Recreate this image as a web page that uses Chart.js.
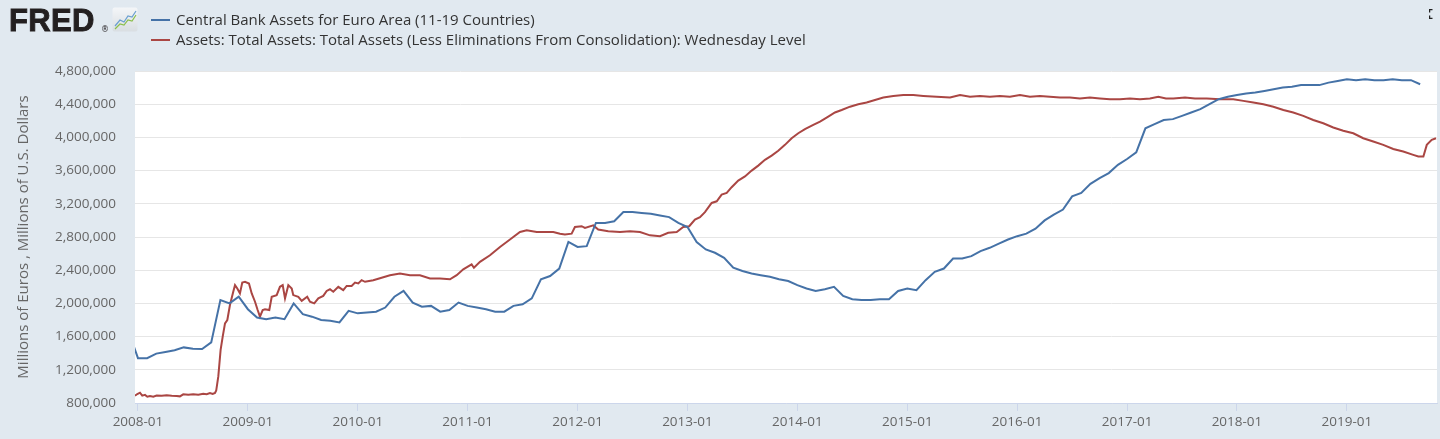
<!DOCTYPE html>
<html>
<head>
<meta charset="utf-8">
<title>Central Bank Assets</title>
<script src="https://cdn.jsdelivr.net/npm/chart.js@4.4.1/dist/chart.umd.min.js"></script>
<style>
  html, body { margin: 0; padding: 0; background: #e1e9f0; }
  #wrap { position: relative; width: 1440px; height: 439px; overflow: hidden; font-family: "Open Sans", sans-serif; }
  #chart { position: absolute; left: 0; top: 0; }
  .logo { position: absolute; left: 9px; top: 2px; font-family: "Liberation Sans", Arial, sans-serif; font-weight: bold;
          font-size: 31px; letter-spacing: 0.3px; color: #231f20; line-height: 38px; -webkit-text-stroke: 0.9px #231f20; }
  .reg { position: absolute; left: 101px; top: 25px; font-family: "DejaVu Sans", sans-serif; font-size: 8px; color: #231f20; }
  .logo-icon { position: absolute; left: 112px; top: 7px; }
  .legend { position: absolute; left: 151px; top: 9px; font-size: 15px; color: #333333; }
  .legend div { height: 20px; line-height: 20px; white-space: nowrap; }
  .legend span.swatch { display: inline-block; width: 19px; height: 2px; vertical-align: middle; margin-right: 6px; position: relative; top: -1px; }
  .full { position: absolute; left: 1429px; top: 9px; }
</style>
</head>
<body>
<div id="wrap">
  <canvas id="chart" width="1440" height="439"></canvas>
  <div class="logo">FRED</div>
  <div class="reg">®</div>
  <svg class="logo-icon" width="26" height="25" viewBox="0 0 26 25">
    <defs>
      <linearGradient id="g" x1="0" y1="0" x2="0" y2="1">
        <stop offset="0" stop-color="#f4f6f8"/>
        <stop offset="1" stop-color="#d9dee2"/>
      </linearGradient>
    </defs>
    <rect x="0.5" y="0.5" width="25" height="24" rx="2" fill="url(#g)"/>
    <polyline points="3,19 8,13 12,15 16,9 20,10 24,4" fill="none" stroke="#6a9fd0" stroke-width="1.2"/>
    <polyline points="3,22 8,17 12,18 16,13 20,14 24,8" fill="none" stroke="#8bbf4c" stroke-width="1.2"/>
  </svg>
  <div class="legend">
    <div><span class="swatch" style="background:#4572a7"></span>Central Bank Assets for Euro Area (11-19 Countries)</div>
    <div><span class="swatch" style="background:#aa4643"></span>Assets: Total Assets: Total Assets (Less Eliminations From Consolidation): Wednesday Level</div>
  </div>
  <svg class="full" width="8" height="10" viewBox="0 0 8 10">
    <path d="M0.5 3.5 V0.5 H3.5 M0.5 6.5 V9.5 H3.5" fill="none" stroke="#222" stroke-width="1.5"/>
  </svg>
</div>
<script>
// Central Bank Assets for Euro Area, monthly (millions of euros)
var blueMonths = [
  "2007-12", "2008-01", "2008-02", "2008-03", "2008-04", "2008-05", "2008-06", "2008-07", "2008-08", "2008-09", "2008-10", "2008-11", "2008-12",
  "2009-01", "2009-02", "2009-03", "2009-04", "2009-05", "2009-06", "2009-07", "2009-08", "2009-09", "2009-10", "2009-11", "2009-12",
  "2010-01", "2010-02", "2010-03", "2010-04", "2010-05", "2010-06", "2010-07", "2010-08", "2010-09", "2010-10", "2010-11", "2010-12",
  "2011-01", "2011-02", "2011-03", "2011-04", "2011-05", "2011-06", "2011-07", "2011-08", "2011-09", "2011-10", "2011-11", "2011-12",
  "2012-01", "2012-02", "2012-03", "2012-04", "2012-05", "2012-06", "2012-07", "2012-08", "2012-09", "2012-10", "2012-11", "2012-12",
  "2013-01", "2013-02", "2013-03", "2013-04", "2013-05", "2013-06", "2013-07", "2013-08", "2013-09", "2013-10", "2013-11", "2013-12",
  "2014-01", "2014-02", "2014-03", "2014-04", "2014-05", "2014-06", "2014-07", "2014-08", "2014-09", "2014-10", "2014-11", "2014-12",
  "2015-01", "2015-02", "2015-03", "2015-04", "2015-05", "2015-06", "2015-07", "2015-08", "2015-09", "2015-10", "2015-11", "2015-12",
  "2016-01", "2016-02", "2016-03", "2016-04", "2016-05", "2016-06", "2016-07", "2016-08", "2016-09", "2016-10", "2016-11", "2016-12",
  "2017-01", "2017-02", "2017-03", "2017-04", "2017-05", "2017-06", "2017-07", "2017-08", "2017-09", "2017-10", "2017-11", "2017-12",
  "2018-01", "2018-02", "2018-03", "2018-04", "2018-05", "2018-06", "2018-07", "2018-08", "2018-09", "2018-10", "2018-11", "2018-12",
  "2019-01", "2019-02", "2019-03", "2019-04", "2019-05", "2019-06", "2019-07", "2019-08", "2019-09"
];
var blueValues = [
  1650000, 1340000, 1340000, 1395000, 1415000, 1435000, 1470000, 1455000, 1450000, 1530000, 2040000, 2000000, 2080000,
  1930000, 1830000, 1810000, 1830000, 1810000, 2000000, 1870000, 1840000, 1800000, 1790000, 1770000, 1910000,
  1880000, 1890000, 1900000, 1950000, 2080000, 2150000, 2010000, 1960000, 1970000, 1900000, 1920000, 2010000,
  1970000, 1950000, 1930000, 1900000, 1900000, 1970000, 1990000, 2060000, 2290000, 2330000, 2420000, 2740000,
  2680000, 2690000, 2970000, 2970000, 2990000, 3100000, 3100000, 3090000, 3080000, 3060000, 3040000, 2970000,
  2920000, 2740000, 2650000, 2610000, 2550000, 2430000, 2390000, 2360000, 2340000, 2320000, 2290000, 2270000,
  2220000, 2180000, 2150000, 2170000, 2200000, 2090000, 2050000, 2040000, 2040000, 2050000, 2050000, 2150000,
  2180000, 2160000, 2280000, 2380000, 2420000, 2540000, 2540000, 2570000, 2630000, 2670000, 2720000, 2770000,
  2810000, 2840000, 2900000, 3000000, 3070000, 3130000, 3290000, 3330000, 3440000, 3510000, 3570000, 3670000,
  3740000, 3820000, 4110000, 4160000, 4210000, 4220000, 4260000, 4300000, 4340000, 4400000, 4460000, 4490000,
  4510000, 4530000, 4540000, 4560000, 4580000, 4600000, 4610000, 4630000, 4630000, 4630000, 4660000, 4680000,
  4700000, 4690000, 4700000, 4690000, 4690000, 4700000, 4690000, 4690000, 4640000
];

// Fed total assets, Wednesday level (millions of dollars), dates as decimal years
var redTimes = [
  2007.973, 2007.994, 2008.018, 2008.039, 2008.064, 2008.085, 2008.109, 2008.139, 2008.170, 2008.216, 2008.261, 2008.307,
  2008.352, 2008.382, 2008.412, 2008.458, 2008.503, 2008.549, 2008.594, 2008.625, 2008.655, 2008.680, 2008.701, 2008.712,
  2008.731, 2008.752, 2008.771, 2008.792, 2008.813, 2008.837, 2008.867, 2008.883, 2008.904, 2008.928, 2008.949, 2008.974,
  2009.010, 2009.035, 2009.065, 2009.089, 2009.110, 2009.135, 2009.156, 2009.195, 2009.217, 2009.262, 2009.292, 2009.317,
  2009.338, 2009.368, 2009.399, 2009.413, 2009.459, 2009.490, 2009.540, 2009.565, 2009.604, 2009.641, 2009.686, 2009.717,
  2009.747, 2009.777, 2009.823, 2009.868, 2009.899, 2009.944, 2009.975, 2010.005, 2010.035, 2010.066, 2010.141, 2010.217,
  2010.293, 2010.384, 2010.475, 2010.566, 2010.657, 2010.748, 2010.839, 2010.900, 2010.960, 2011.036, 2011.057, 2011.112,
  2011.203, 2011.294, 2011.385, 2011.476, 2011.537, 2011.628, 2011.719, 2011.779, 2011.840, 2011.885, 2011.946, 2011.976,
  2012.037, 2012.067, 2012.143, 2012.188, 2012.279, 2012.386, 2012.477, 2012.568, 2012.659, 2012.750, 2012.825, 2012.902,
  2012.962, 2013.016, 2013.068, 2013.114, 2013.159, 2013.220, 2013.266, 2013.311, 2013.357, 2013.402, 2013.462, 2013.523,
  2013.584, 2013.644, 2013.705, 2013.766, 2013.826, 2013.887, 2013.948, 2014.008, 2014.069, 2014.145, 2014.206, 2014.281,
  2014.342, 2014.403, 2014.479, 2014.554, 2014.630, 2014.706, 2014.782, 2014.873, 2014.964, 2015.055, 2015.146, 2015.267,
  2015.389, 2015.480, 2015.571, 2015.661, 2015.752, 2015.843, 2015.934, 2016.025, 2016.116, 2016.207, 2016.298, 2016.389,
  2016.480, 2016.571, 2016.662, 2016.753, 2016.844, 2016.935, 2017.026, 2017.117, 2017.208, 2017.284, 2017.354, 2017.421,
  2017.527, 2017.618, 2017.725, 2017.846, 2017.967, 2018.058, 2018.149, 2018.240, 2018.331, 2018.422, 2018.512, 2018.603,
  2018.694, 2018.785, 2018.876, 2018.967, 2019.058, 2019.149, 2019.240, 2019.331, 2019.422, 2019.513, 2019.604, 2019.650,
  2019.696, 2019.727, 2019.772, 2019.811
];
var redValues = [
  888000, 908000, 924000, 888000, 898000, 876000, 885000, 876000, 890000, 888000, 892000, 886000,
  885000, 880000, 905000, 898000, 906000, 900000, 910000, 905000, 920000, 908000, 920000, 950000,
  1120000, 1440000, 1600000, 1760000, 1800000, 1980000, 2140000, 2220000, 2180000, 2120000, 2250000, 2260000,
  2240000, 2120000, 2020000, 1920000, 1840000, 1920000, 1930000, 1920000, 2080000, 2100000, 2200000, 2220000,
  2060000, 2220000, 2180000, 2100000, 2080000, 2030000, 2080000, 2020000, 2000000, 2060000, 2090000, 2150000,
  2170000, 2140000, 2200000, 2160000, 2210000, 2210000, 2250000, 2240000, 2280000, 2260000, 2280000, 2310000,
  2340000, 2360000, 2340000, 2340000, 2300000, 2300000, 2290000, 2340000, 2410000, 2470000, 2430000, 2500000,
  2580000, 2680000, 2770000, 2860000, 2880000, 2860000, 2860000, 2860000, 2840000, 2830000, 2840000, 2920000,
  2930000, 2910000, 2940000, 2890000, 2870000, 2860000, 2870000, 2860000, 2820000, 2810000, 2850000, 2860000,
  2920000, 2930000, 3010000, 3040000, 3100000, 3210000, 3230000, 3310000, 3330000, 3400000, 3480000, 3530000,
  3600000, 3660000, 3730000, 3780000, 3840000, 3910000, 3990000, 4050000, 4100000, 4150000, 4190000, 4250000,
  4300000, 4330000, 4370000, 4400000, 4420000, 4450000, 4480000, 4500000, 4510000, 4510000, 4500000, 4490000,
  4480000, 4510000, 4490000, 4500000, 4490000, 4500000, 4490000, 4510000, 4490000, 4500000, 4490000, 4480000,
  4480000, 4470000, 4480000, 4470000, 4460000, 4460000, 4470000, 4460000, 4470000, 4490000, 4470000, 4470000,
  4480000, 4470000, 4470000, 4460000, 4460000, 4440000, 4420000, 4400000, 4370000, 4330000, 4300000, 4260000,
  4210000, 4170000, 4120000, 4080000, 4050000, 3990000, 3950000, 3910000, 3860000, 3830000, 3790000, 3770000,
  3770000, 3910000, 3970000, 3990000
];

var yTicks = [800000, 1200000, 1600000, 2000000, 2400000, 2800000, 3200000, 3600000, 4000000, 4400000, 4800000];
var xYears = [2008, 2009, 2010, 2011, 2012, 2013, 2014, 2015, 2016, 2017, 2018, 2019];

function monthToYear(s) {
    var p = s.split("-");
    return Number(p[0]) + (Number(p[1]) - 1) / 12;
}

var blueData = blueMonths.map(function (m, i) { return { x: monthToYear(m), y: blueValues[i] }; });
var redData = redTimes.map(function (t, i) { return { x: t, y: redValues[i] }; });

// white plot area on the grey-blue page
var plotBackground = {
    id: "plotBackground",
    beforeDraw: function (chart) {
        var a = chart.chartArea, ctx = chart.ctx;
        ctx.save();
        ctx.fillStyle = "#ffffff";
        ctx.fillRect(a.left, a.top, a.right - a.left, a.bottom - a.top);
        ctx.restore();
    }
};

var ctx = document.getElementById("chart");

new Chart(ctx, {
    type: "line",
    data: {
        datasets: [
            {
                label: "Central Bank Assets for Euro Area (11-19 Countries)",
                data: blueData,
                borderColor: "#4572a7",
                borderWidth: 2,
                pointRadius: 0,
                tension: 0
            },
            {
                label: "Assets: Total Assets: Total Assets (Less Eliminations From Consolidation): Wednesday Level",
                data: redData,
                borderColor: "#aa4643",
                borderWidth: 2,
                pointRadius: 0,
                tension: 0
            }
        ]
    },
    options: {
        responsive: false,
        animation: false,
        devicePixelRatio: 1,
        layout: { padding: { top: 71, right: 3, left: 0, bottom: 0 } },
        plugins: {
            legend: { display: false },
            tooltip: { enabled: false }
        },
        scales: {
            x: {
                type: "linear",
                min: 2007.973,
                max: 2019.82,
                afterFit: function (scale) { scale.height = 36; },
                afterBuildTicks: function (scale) {
                    scale.ticks = xYears.map(function (y) { return { value: y }; });
                },
                grid: { drawOnChartArea: false, color: "#ccd6eb", tickLength: 8 },
                border: { display: true, color: "#ccd6eb" },
                ticks: {
                    autoSkip: false,
                    maxRotation: 0,
                    padding: 3,
                    color: "#666666",
                    font: { family: "Open Sans", size: 13.5 },
                    callback: function (v) { return v + "-01"; }
                }
            },
            y: {
                min: 800000,
                max: 4800000,
                afterFit: function (scale) { scale.width = 135; },
                afterBuildTicks: function (scale) {
                    scale.ticks = yTicks.map(function (v) { return { value: v }; });
                },
                grid: { color: "#e6e6e6", drawTicks: false },
                border: { display: false },
                ticks: {
                    padding: 19,
                    color: "#666666",
                    font: { family: "Open Sans", size: 13.5 },
                    callback: function (v) { return v.toLocaleString("en-US"); }
                },
                title: {
                    display: true,
                    text: "Millions of Euros , Millions of U.S. Dollars",
                    color: "#666666",
                    font: { family: "Open Sans", size: 15 },
                    padding: { top: 15, bottom: 0 }
                }
            }
        }
    },
    plugins: [plotBackground]
});
</script>
</body>
</html>
